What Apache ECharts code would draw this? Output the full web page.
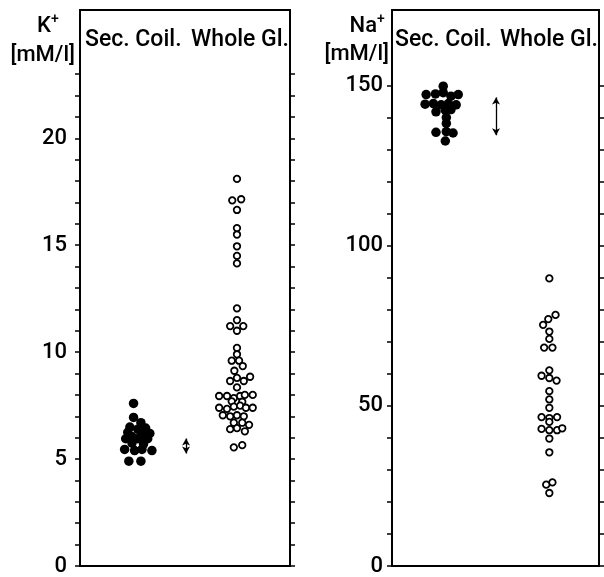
<!DOCTYPE html>
<html>
<head>
<meta charset="utf-8">
<script src="https://cdn.jsdelivr.net/npm/echarts@6/dist/echarts.min.js"></script>
<style>
html,body{margin:0;padding:0;background:#fff;}
#c{width:604px;height:577px;}
</style>
</head>
<body>
<div id="c"></div>
<script>
// ---------- DATA ----------
const groupLabels = ['Sec. Coil.', 'Whole Gl.'];
const kTitle = 'K', naTitle = 'Na', unitLabel = '[mM/l]';

// K+ panel
const kTickLabels = [0, 5, 10, 15, 20];
const kSecCoil = [7.6, 6.95, 6.7, 6.5, 6.45, 6.4, 6.25, 6.25, 6.2, 6.05, 6.05, 5.95, 5.95, 5.95, 5.75, 5.7, 5.45, 5.4, 5.45, 5.4, 4.9, 4.9];
const kSecCoilSpread = [-0.08, -0.08, 0.06, -0.15, 0.15, 0, -0.19, 0.06, 0.23, -0.11, 0.11, -0.23, 0, 0.19, -0.11, 0.11, -0.25, -0.06, 0.08, 0.27, -0.17, 0.06];
const kWholeGl = [18.1, 17.1, 17.15, 16.65, 15.8, 15.5, 14.95, 14.5, 14.15, 12.05, 11.5, 11.22, 11.22, 11.0,
  10.2, 9.9, 9.6, 9.6, 9.35, 9.13, 8.65, 8.8, 8.65, 8.85, 8.35,
  7.95, 7.95, 7.85, 7.95, 8.0, 8.0, 7.7, 7.68,
  7.4, 7.35, 7.45, 7.5, 7.4, 7.4, 7.05, 7.0, 7.05, 7.0,
  6.7, 6.7, 6.6, 6.4, 6.45, 6.3, 5.55, 5.65];
const kWholeGlSpread = [0, -0.09, 0.08, 0, 0, 0, 0, 0, 0, 0, 0, -0.13, 0.12, 0,
  0, 0, -0.1, 0.04, 0.11, -0.05, -0.13, 0, 0.13, 0.25, 0,
  -0.34, -0.19, -0.06, 0.06, 0.15, 0.30, -0.1, 0.1,
  -0.34, -0.19, -0.06, 0.06, 0.17, 0.30, -0.27, -0.13, 0, 0.13,
  -0.06, 0.1, 0.23, -0.13, 0, 0.15, -0.06, 0.1];
const kPlasmaRange = [5.26, 5.96];

// Na+ panel
const naTickLabels = [0, 50, 100, 150];
const naSecCoil = [149.8, 147.2, 147.4, 147.8, 146.7, 147.2, 144.2, 144.4, 144.0, 144.4, 144.0, 141.8, 142.3, 142.5, 140.0, 138.2, 135.4, 135.6, 135.2, 132.7];
const naSecCoilSpread = [0, -0.33, -0.15, 0, 0.15, 0.29, -0.35, -0.19, -0.04, 0.10, 0.25, -0.14, 0.04, 0.15, 0.06, 0.06, -0.14, 0.06, 0.19, 0.04];
const naWholeGl = [89.8, 78.4, 77.1, 75.3, 73.2, 70.9, 68.2, 68.2, 61.1, 59.4, 58.7, 57.9, 54.6, 52.0, 49.4, 46.5, 46.2, 46.5, 45.0, 42.8, 42.4, 42.4, 43.0, 39.8, 35.5, 26.1, 25.4, 22.8];
const naWholeGlSpread = [0, 0.12, -0.02, -0.12, 0, 0, -0.10, 0.06, 0, -0.15, 0, 0.14, 0, 0, 0, -0.15, 0, 0.15, 0, -0.15, 0, 0.15, 0.25, 0, 0, 0.06, -0.06, 0];
const naPlasmaRange = [134.5, 146.3];

// ---------- CHART ----------
const FONT = 'Roboto, "Liberation Sans", Arial, sans-serif';
const FW = '500 ';
const range = (a, b, s) => { const r = []; for (let v = a; v <= b + 1e-9; v += s) r.push(+v.toFixed(6)); return r; };

function yAxes(grid, max, ticks, labels, margin) {
  const common = {
    type: 'value', gridIndex: grid, min: 0, max: max,
    splitLine: { show: false },
    axisLine: { show: true, lineStyle: { color: '#000', width: 2 } }
  };
  return [
    Object.assign({}, common, {
      position: 'left',
      axisTick: { show: true, inside: false, length: 5, customValues: ticks, lineStyle: { color: '#000', width: 1.5 } },
      axisLabel: { show: true, customValues: labels, margin: margin, color: '#000', fontSize: 22, fontWeight: 500, fontFamily: FONT }
    }),
    Object.assign({}, common, {
      position: 'right',
      axisTick: { show: true, inside: false, length: 5, customValues: ticks, lineStyle: { color: '#000', width: 1.5 } },
      axisLabel: { show: false }
    })
  ];
}

const kPos = { sec: 1.1, ref: 2.02, whole: 2.99 };
const naPos = { sec: 0.99, ref: 2.01, whole: 3.04 };

const filled = { color: '#000', opacity: 1 };
const open = { color: '#fff', borderColor: '#000', borderWidth: 1.8, opacity: 1 };

function arrowSeries(xi, yi, x, r) {
  return {
    type: 'line', xAxisIndex: xi, yAxisIndex: yi, data: [], silent: true,
    markLine: {
      silent: true, symbol: ['arrow', 'arrow'], symbolSize: [6, 7],
      label: { show: false },
      lineStyle: { color: '#000', width: 1.3, type: 'solid', opacity: 1 },
      emphasis: { disabled: true },
      data: [[{ coord: [x, r[0]] }, { coord: [x, r[1]] }]]
    }
  };
}

const txt = (extra) => Object.assign({ font: FW + '22px ' + FONT, fill: '#000' }, extra);
const HEAD = FW + '23px ' + FONT;

const option = {
  animation: false,
  backgroundColor: '#fff',
  grid: [
    { left: 80, top: 10, width: 210, height: 559, show: true, borderColor: '#000', borderWidth: 2, backgroundColor: 'transparent' },
    { left: 392, top: 10, width: 207, height: 559, show: true, borderColor: '#000', borderWidth: 2, backgroundColor: 'transparent' }
  ],
  xAxis: [
    { type: 'value', gridIndex: 0, min: 0, max: 4, show: false },
    { type: 'value', gridIndex: 1, min: 0, max: 4, show: false }
  ],
  yAxis: [].concat(
    yAxes(0, 26, range(0, 23, 1), kTickLabels, 13),
    yAxes(1, 173.6, range(0, 150, 10), naTickLabels, 9)
  ),
  series: [
    { type: 'scatter', xAxisIndex: 0, yAxisIndex: 0, symbol: 'circle', symbolSize: 9.5, itemStyle: filled,
      data: kSecCoil.map((v, i) => [kPos.sec + kSecCoilSpread[i], v]) },
    { type: 'scatter', xAxisIndex: 0, yAxisIndex: 0, symbol: 'circle', symbolSize: 6.5, itemStyle: open,
      data: kWholeGl.map((v, i) => [kPos.whole + kWholeGlSpread[i], v]) },
    arrowSeries(0, 0, kPos.ref, kPlasmaRange),
    { type: 'scatter', xAxisIndex: 1, yAxisIndex: 2, symbol: 'circle', symbolSize: 9.5, itemStyle: filled,
      data: naSecCoil.map((v, i) => [naPos.sec + naSecCoilSpread[i], v]) },
    { type: 'scatter', xAxisIndex: 1, yAxisIndex: 2, symbol: 'circle', symbolSize: 6.5, itemStyle: open,
      data: naWholeGl.map((v, i) => [naPos.whole + naWholeGlSpread[i], v]) },
    arrowSeries(1, 2, naPos.ref, naPlasmaRange)
  ],
  graphic: [
    // K panel labels
    { type: 'text', left: 85, top: 29, style: txt({ text: groupLabels[0], font: HEAD }) },
    { type: 'text', right: 604 - 289, top: 29, style: txt({ text: groupLabels[1], font: HEAD, textAlign: 'right' }) },
    { type: 'text', x: 51, y: 26, style: txt({ text: kTitle, textAlign: 'right', textVerticalAlign: 'middle' }) },
    { type: 'text', x: 51, y: 19, style: txt({ text: '+', font: FW + '14px ' + FONT, textAlign: 'left', textVerticalAlign: 'middle' }) },
    { type: 'text', x: 75, y: 55, style: txt({ text: unitLabel, textAlign: 'right', textVerticalAlign: 'middle' }) },
    // Na panel labels
    { type: 'text', left: 395, top: 29, style: txt({ text: groupLabels[0], font: HEAD }) },
    { type: 'text', right: 604 - 598, top: 29, style: txt({ text: groupLabels[1], font: HEAD, textAlign: 'right' }) },
    { type: 'text', x: 377, y: 26, style: txt({ text: naTitle, textAlign: 'right', textVerticalAlign: 'middle' }) },
    { type: 'text', x: 377, y: 19, style: txt({ text: '+', font: FW + '14px ' + FONT, textAlign: 'left', textVerticalAlign: 'middle' }) },
    { type: 'text', x: 389, y: 54, style: txt({ text: unitLabel, textAlign: 'right', textVerticalAlign: 'middle' }) }
  ]
};

const chart = echarts.init(document.getElementById('c'), null, { renderer: 'canvas' });
chart.setOption(option);
</script>
</body>
</html>
